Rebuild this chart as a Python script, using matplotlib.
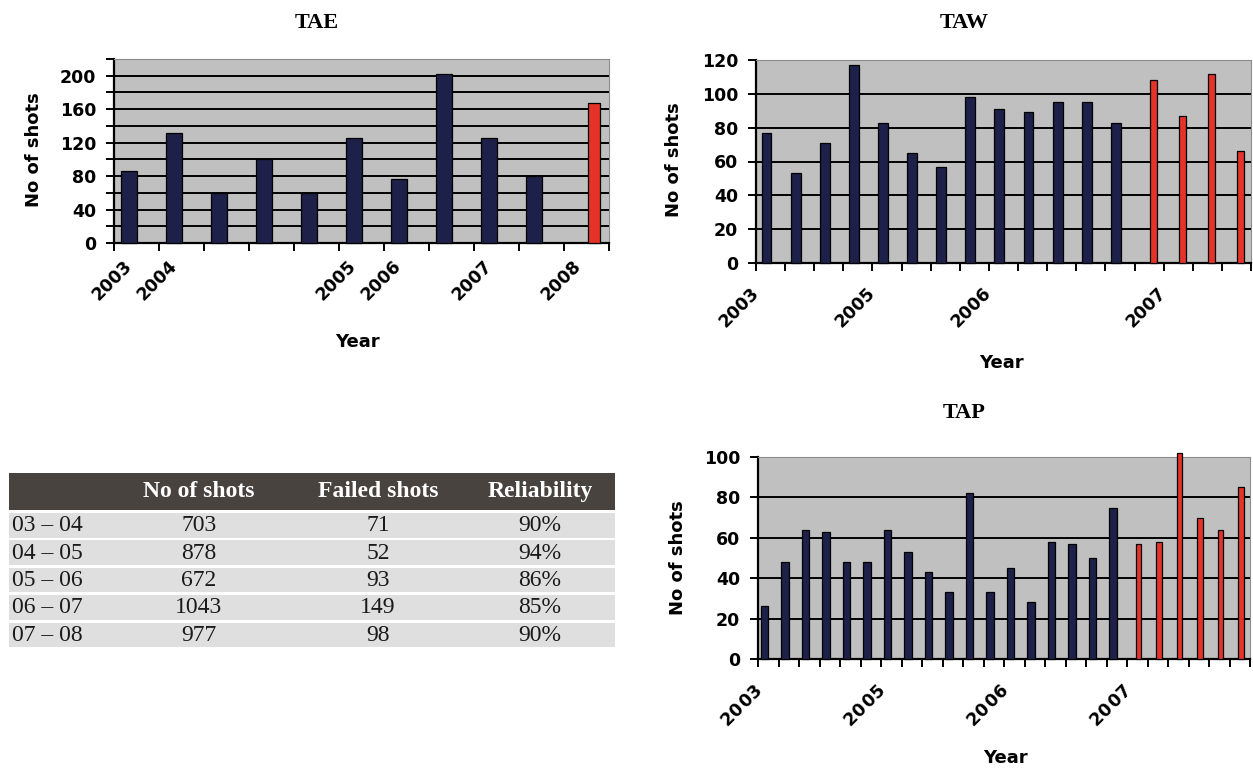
import numpy as np
import matplotlib
matplotlib.use("Agg")
import matplotlib.pyplot as plt
from matplotlib.patches import Rectangle
from matplotlib.transforms import ScaledTranslation

W, H, DPI = 1253, 772, 100

NAVY = "#1d2149"
RED = "#e6332a"
PLOT_BG = "#c0c0c0"
SANS = "DejaVu Sans"
SERIF = "Liberation Serif"

# ---- TAE ----
tae_labels = ["2003", "2004", "", "", "", "2005", "2006", "", "2007", "", "2008"]
tae_shots = [86, 131, 60, 100, 60, 125, 77, 202, 125, 80, 167]
tae_recent = [0] * 10 + [1]

# ---- TAW ----
taw_labels = ["2003", "", "", "", "2005", "", "", "", "2006", "", "", "", "", "",
              "2007", "", ""]
taw_shots = [77, 53, 71, 117, 83, 65, 57, 98, 91, 89, 95, 95, 83, 108, 87, 112, 66]
taw_recent = [0] * 13 + [1] * 4

# ---- TAP ----
tap_labels = ["20\u200a03", "", "", "", "", "", "20\u200a05", "", "", "", "", "",
              "20\u200a06", "", "", "", "", "", "20\u200a07", "", "", "", "", ""]
tap_shots = [26, 48, 64, 63, 48, 48, 64, 53, 43, 33, 82, 33, 45, 28, 58, 57, 50, 75,
             57, 58, 102, 70, 64, 85]
tap_recent = [0] * 18 + [1] * 6

# ---- reliability table ----
table_cols = ["", "No of shots", "Failed shots", "Reliability"]
periods = ["03 \u2013 04", "04 \u2013 05", "05 \u2013 06", "06 \u2013 07", "07 \u2013 08"]
total_shots = [703, 878, 672, 1043, 977]
failed_shots = [71, 52, 93, 149, 98]
reliability = ["90%", "94%", "86%", "85%", "90%"]

fig = plt.figure(figsize=(W / DPI, H / DPI), dpi=DPI)
fig.patch.set_facecolor("white")


def fx(x):
    return x / W


def fy(y):
    return 1 - y / H


def px_text(x, y, s, **kw):
    fig.text(fx(x), fy(y), s, **kw)


def bar_chart(box, labels, shots, recent, ymax, ystep, label_every,
              blue_off, blue_w, red_off, red_w, lab_dx, lab_dy,
              title, title_xy, year_xy, ylab_xy):
    left, top, right, bottom = box
    ax = fig.add_axes([fx(left), fy(bottom), fx(right - left), (bottom - top) / H])
    n = len(shots)
    idx = np.arange(n)
    shots = np.asarray(shots, dtype=float)
    recent = np.asarray(recent, dtype=bool)

    ax.set_facecolor(PLOT_BG)
    ax.set_xlim(-0.5, n - 0.5)
    ax.set_ylim(0, ymax)

    yt = np.arange(0, ymax + 1, ystep)
    for v in yt[1:-1]:
        ax.axhline(v, color="black", lw=1.4, zorder=1)

    ax.bar(idx[~recent] + blue_off, shots[~recent], width=blue_w, color=NAVY,
           edgecolor="black", linewidth=0.9, zorder=3, clip_on=False)
    ax.bar(idx[recent] + red_off, shots[recent], width=red_w, color=RED,
           edgecolor="black", linewidth=0.9, zorder=3, clip_on=False)

    ax.set_yticks(yt)
    ax.set_yticklabels([f"{int(v)}" if (int(v) % label_every == 0) else "" for v in yt])
    ax.set_xticks(np.arange(-0.5, n, 1.0))
    ax.set_xticklabels([])
    ax.tick_params(axis="y", direction="out", length=5.5, width=1.4, pad=7.5,
                   labelsize=12.5, colors="black")
    ax.tick_params(axis="x", direction="out", length=5.8, width=1.4)
    for lab in ax.get_yticklabels():
        lab.set_fontweight("bold")
        lab.set_family(SANS)

    for s in ("left", "bottom"):
        ax.spines[s].set_color("black")
        ax.spines[s].set_linewidth(1.6)
    for s in ("top", "right"):
        ax.spines[s].set_color("#8c8c8c")
        ax.spines[s].set_linewidth(0.8)

    off = ScaledTranslation(lab_dx / DPI, lab_dy / DPI, fig.dpi_scale_trans)
    for i, lab in enumerate(labels):
        if lab:
            ax.text(i, 0, lab, transform=ax.get_xaxis_transform() + off,
                    rotation=45, rotation_mode="anchor", ha="right", va="top",
                    fontsize=12.5, fontweight="bold", family=SANS)

    px_text(*title_xy, title, ha="center", va="center", fontsize=16,
            fontweight="bold", family=SERIF)
    px_text(*year_xy, "Year", ha="center", va="center", fontsize=13,
            fontweight="bold", family=SANS)
    px_text(*ylab_xy, "No of shots", ha="center", va="center", fontsize=13,
            fontweight="bold", family=SANS, rotation=90)
    return ax


bar_chart((114, 59, 609, 243), tae_labels, tae_shots, tae_recent, 220, 20, 40,
          -0.17, 0.36, 0.16, 0.27, -14, -14,
          "TAE", (317, 23), (357, 342), (34, 150))
bar_chart((756, 60, 1251, 263), taw_labels, taw_shots, taw_recent, 120, 20, 20,
          -0.14, 0.34, 0.14, 0.25, -21, -21,
          "TAW", (964, 23), (1001, 363), (674, 160))
bar_chart((758, 457, 1250, 659), tap_labels, tap_shots, tap_recent, 100, 20, 20,
          -0.18, 0.36, 0.06, 0.28, -15, -23,
          "TAP", (964, 413), (1005, 758), (678, 558))

# ---- table ----
tbl_left, tbl_right = 9, 615
head_top, head_bot = 473, 510
row_top0, row_h, row_pitch = 513, 24.5, 27.4
col_x = [12, 199, 378, 540]

fig.patches.append(Rectangle((fx(tbl_left), fy(head_bot)), fx(tbl_right - tbl_left),
                             (head_bot - head_top) / H, transform=fig.transFigure,
                             facecolor="#48433f", edgecolor="none"))
for j, name in enumerate(table_cols):
    if name:
        px_text(col_x[j], (head_top + head_bot) / 2, name, ha="center", va="center",
                fontsize=17, fontweight="bold", family=SERIF, color="white")

for i in range(len(periods)):
    y0 = row_top0 + i * row_pitch
    fig.patches.append(Rectangle((fx(tbl_left), fy(y0 + row_h)), fx(tbl_right - tbl_left),
                                 row_h / H, transform=fig.transFigure,
                                 facecolor="#dfdfdf", edgecolor="none"))
    yc = y0 + row_h / 2 + 0.5
    cells = [periods[i], str(total_shots[i]), str(failed_shots[i]), reliability[i]]
    for j, s in enumerate(cells):
        px_text(col_x[j], yc, s, ha="left" if j == 0 else "center", va="center",
                fontsize=17, family=SERIF, color="#1a1a1a")

fig.savefig("out.png", dpi=DPI)
